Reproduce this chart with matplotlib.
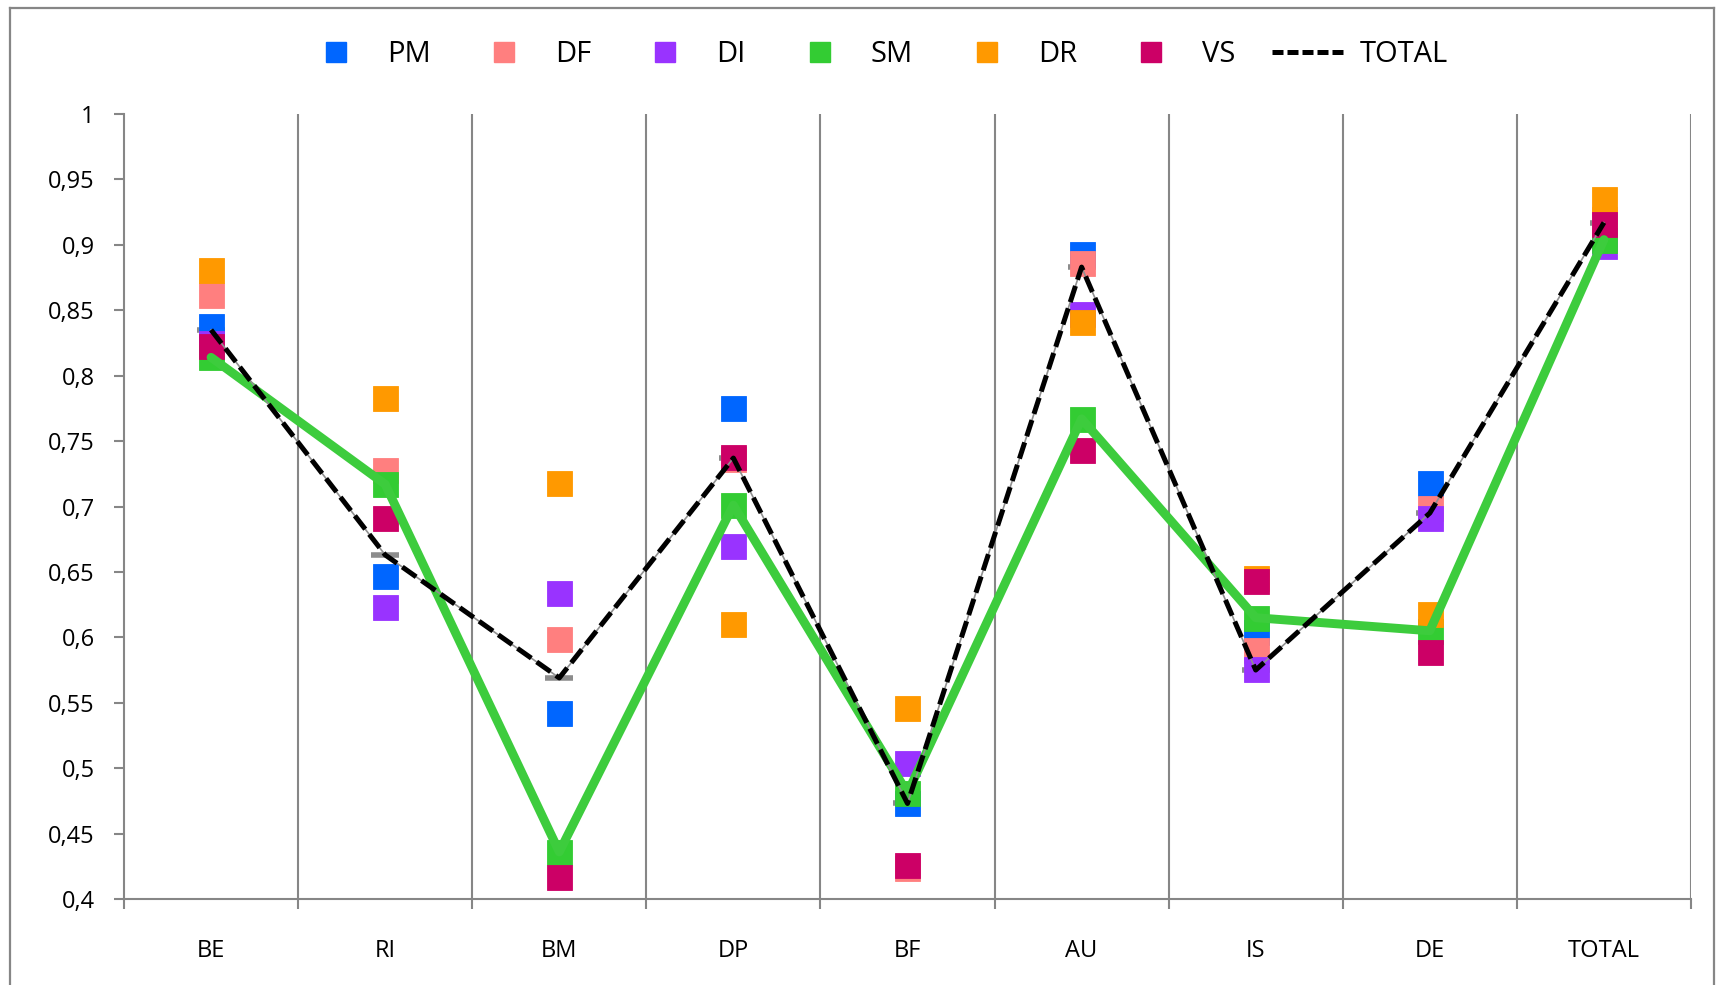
import matplotlib
matplotlib.use("Agg")
import matplotlib.pyplot as plt
from matplotlib.lines import Line2D
import numpy as np

categories = ['BE', 'RI', 'BM', 'DP', 'BF', 'AU', 'IS', 'DE', 'TOTAL']
PM = [0.838, 0.647, 0.542, 0.775, 0.473, 0.893, 0.604, 0.718, 0.915]
DF = [0.862, 0.728, 0.599, 0.736, 0.424, 0.886, 0.590, 0.699, 0.920]
DI = [0.825, 0.623, 0.634, 0.670, 0.504, 0.847, 0.576, 0.691, 0.899]
SM = [0.814, 0.717, 0.436, 0.701, 0.481, 0.767, 0.615, 0.605, 0.904]
DR = [0.881, 0.783, 0.718, 0.610, 0.546, 0.841, 0.645, 0.618, 0.935]
VS = [0.823, 0.691, 0.417, 0.738, 0.426, 0.743, 0.643, 0.589, 0.916]
TOTAL = [0.835, 0.663, 0.569, 0.737, 0.473, 0.883, 0.575, 0.695, 0.917]

series_names = ['PM', 'DF', 'DI', 'SM', 'DR', 'VS']
series_vals = [PM, DF, DI, SM, DR, VS]
colors = ['#0066FF', '#FF7F7F', '#9933FF', '#33CC33', '#FF9900', '#CC0066']

y_ticks = [0.4, 0.45, 0.5, 0.55, 0.6, 0.65, 0.7, 0.75, 0.8, 0.85, 0.9, 0.95, 1.0]

plt.rcParams['font.family'] = ['Open Sans', 'DejaVu Sans']
GRAY = '#868686'

fig = plt.figure(figsize=(17.2, 9.85), dpi=100)
ax = fig.add_axes([124/1720, 1-899/985, (1691-124)/1720, (899-114)/985])

x = np.arange(len(categories)) + 0.5

# TOTAL gray dash markers (mostly hidden under the squares)
ax.plot(x, TOTAL, linestyle='none', marker='_', markersize=20,
        markeredgewidth=4, markeredgecolor='#8C8C8C', zorder=1.5)

for name, vals, c in zip(series_names, series_vals, colors):
    ax.plot(x, vals, linestyle='none', marker='s', markersize=18,
            markerfacecolor=c, markeredgecolor=c, markeredgewidth=0.6,
            zorder=2)

# SM line
ax.plot(x, SM, color='#3DCC3D', linewidth=6.4, solid_joinstyle='round',
        solid_capstyle='round', zorder=3)
# TOTAL series: gray thin line under black dashed line
ax.plot(x, TOTAL, color='#909090', linewidth=1.2, zorder=3.5)
ax.plot(x, TOTAL, color='black', linewidth=3.6, dashes=(3.4, 1.3),
        dash_capstyle='butt', zorder=4)

ax.set_xlim(0, len(categories))
ax.set_ylim(0.4, 1.0)
ax.set_xticks(x)
ax.set_xticklabels(categories, fontsize=17)
ax.set_xticks(np.arange(0, len(categories) + 1), minor=True)
ax.tick_params(axis='x', which='major', length=0, pad=29)
ax.tick_params(axis='x', which='minor', length=7, width=1.5, color=GRAY,
               direction='out')
ax.set_yticks(y_ticks)
ax.set_yticklabels([('%g' % v).replace('.', ',') for v in y_ticks], fontsize=17)
ax.tick_params(axis='y', length=7, width=1.5, color=GRAY, direction='out', pad=14)

ax.grid(False)
for xv in range(1, len(categories) + 1):
    ax.axvline(xv, color=GRAY, linewidth=1.5, zorder=1)

for s in ['top', 'right']:
    ax.spines[s].set_visible(False)
for s in ['left', 'bottom']:
    ax.spines[s].set_color(GRAY)
    ax.spines[s].set_linewidth(1.5)

# legend
handles = []
for name, c in zip(series_names, colors):
    handles.append(Line2D([], [], linestyle='none', marker='s', markersize=14,
                          markerfacecolor=c, markeredgecolor=c))
handles.append(Line2D([], [], color='black', linewidth=3.6, dashes=(2.2, 0.8)))
leg = fig.legend(handles, series_names + ['TOTAL'], loc='center',
                 bbox_to_anchor=(0.508, 0.9445), ncol=7, frameon=False,
                 fontsize=21, handlelength=2.5, handletextpad=0.5,
                 columnspacing=1.28)

# outer chart frame
fig.add_artist(Line2D([10/1720, 10/1720], [0, 1-8/985], color=GRAY,
                      linewidth=1.6, transform=fig.transFigure))
fig.add_artist(Line2D([10/1720, 1714/1720], [1-8/985, 1-8/985], color=GRAY,
                      linewidth=1.6, transform=fig.transFigure))
fig.add_artist(Line2D([1714/1720, 1714/1720], [0, 1-8/985], color=GRAY,
                      linewidth=1.6, transform=fig.transFigure))

fig.savefig('out.png', dpi=100, facecolor='white')
